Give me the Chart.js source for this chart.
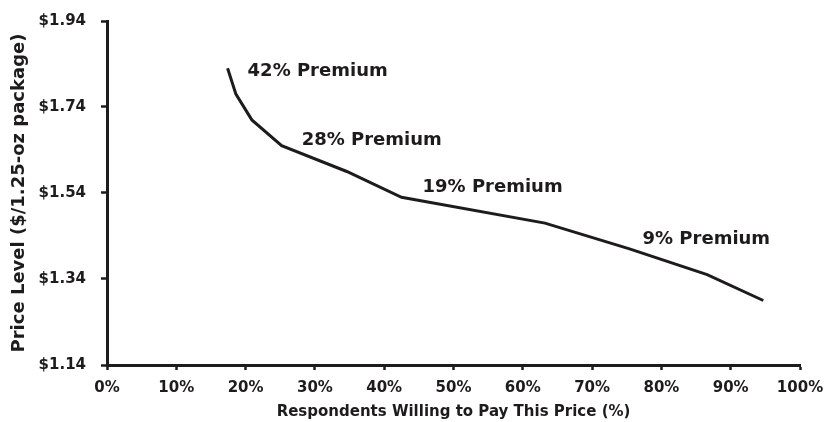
<!DOCTYPE html>
<html lang="en">
<head>
    <meta charset="UTF-8">
    <title>Price Level vs. Willingness to Pay</title>
    <script src="https://cdn.jsdelivr.net/npm/chart.js"></script>
    <style>
        html, body { margin: 0; padding: 0; background: #fff; }
        #wrap { width: 827px; height: 422px; }
    </style>
</head>
<body>
    <div id="wrap"><canvas id="priceChart" width="827" height="422"></canvas></div>

    <script>
        // Demand curve: share of respondents willing to pay each price level
        const willingPct = [17.4, 18.6, 20.9, 25.2, 34.6, 42.5, 63.2, 75.4, 86.6, 94.7];
        const priceLevels = [1.83, 1.77, 1.71, 1.65, 1.59, 1.53, 1.47, 1.41, 1.35, 1.29];

        // Premium callouts, keyed by the price level they sit next to
        const premiumLabels = ['42% Premium', '28% Premium', '19% Premium', '9% Premium'];
        const premiumPrices = [1.83, 1.65, 1.53, 1.41];

        const yTicks = [1.14, 1.34, 1.54, 1.74, 1.94];
        const xTicks = [0, 10, 20, 30, 40, 50, 60, 70, 80, 90, 100];

        const ink = '#1e1b1c';
        const fontFamily = '"DejaVu Sans", Verdana, sans-serif';

        // text offsets from the point (left edge, baseline)
        const labelOffsets = [[20, 8], [20, -1], [21, -5], [13, -5]];

        const premiumLabelPlugin = {
            id: 'premiumLabels',
            afterDatasetsDraw(chart) {
                const meta = chart.getDatasetMeta(0);
                const ctx = chart.ctx;
                ctx.save();
                ctx.font = 'bold 18px ' + fontFamily;
                ctx.fillStyle = ink;
                ctx.textAlign = 'left';
                ctx.textBaseline = 'alphabetic';
                premiumLabels.forEach((text, i) => {
                    const idx = priceLevels.indexOf(premiumPrices[i]);
                    const pt = meta.data[idx];
                    if (!pt) return;
                    ctx.fillText(text, pt.x + labelOffsets[i][0], pt.y + labelOffsets[i][1]);
                });
                ctx.restore();
            }
        };

        const ctx = document.getElementById('priceChart').getContext('2d');
        new Chart(ctx, {
            type: 'line',
            data: {
                datasets: [{
                    data: willingPct.map((x, i) => ({ x: x, y: priceLevels[i] })),
                    borderColor: ink,
                    borderWidth: 3,
                    pointRadius: 0,
                    tension: 0,
                    fill: false
                }]
            },
            options: {
                responsive: false,
                animation: false,
                layout: { padding: { left: 0, right: 27, top: 21, bottom: 0 } },
                plugins: {
                    legend: { display: false },
                    tooltip: { enabled: false }
                },
                scales: {
                    x: {
                        type: 'linear',
                        min: 0,
                        max: 100,
                        afterBuildTicks: (scale) => { scale.ticks = xTicks.map(v => ({ value: v })); },
                        afterFit: (scale) => {
                            scale.height = 57;
                            scale.paddingLeft = 0;
                            scale.paddingRight = 0;
                        },
                        grid: {
                            drawOnChartArea: false,
                            drawTicks: true,
                            tickLength: 5,
                            tickWidth: 2.5,
                            tickColor: ink
                        },
                        border: { display: true, color: ink, width: 3 },
                        ticks: {
                            color: ink,
                            padding: 9,
                            maxRotation: 0,
                            font: { family: fontFamily, size: 15, weight: 'bold' },
                            callback: (v) => v + '%'
                        },
                        title: {
                            display: true,
                            text: 'Respondents Willing to Pay This Price (%)',
                            color: ink,
                            padding: { top: 0, bottom: 1 },
                            font: { family: fontFamily, size: 15, weight: 'bold' }
                        }
                    },
                    y: {
                        type: 'linear',
                        min: 1.14,
                        max: 1.94,
                        afterBuildTicks: (scale) => { scale.ticks = yTicks.map(v => ({ value: v })); },
                        afterFit: (scale) => {
                            scale.width = 107;
                            scale.paddingTop = 0;
                            scale.paddingBottom = 0;
                        },
                        grid: {
                            drawOnChartArea: false,
                            drawTicks: true,
                            tickLength: 6,
                            tickWidth: 2.5,
                            tickColor: ink
                        },
                        border: { display: true, color: ink, width: 3 },
                        ticks: {
                            color: ink,
                            padding: 15,
                            font: { family: fontFamily, size: 15, weight: 'bold' },
                            callback: (v) => '$' + Number(v).toFixed(2)
                        },
                        title: {
                            display: true,
                            text: 'Price Level ($/1.25-oz package)',
                            color: ink,
                            padding: { top: 9, bottom: 0 },
                            font: { family: fontFamily, size: 18, weight: 'bold' }
                        }
                    }
                }
            },
            plugins: [premiumLabelPlugin]
        });
    </script>
</body>
</html>
